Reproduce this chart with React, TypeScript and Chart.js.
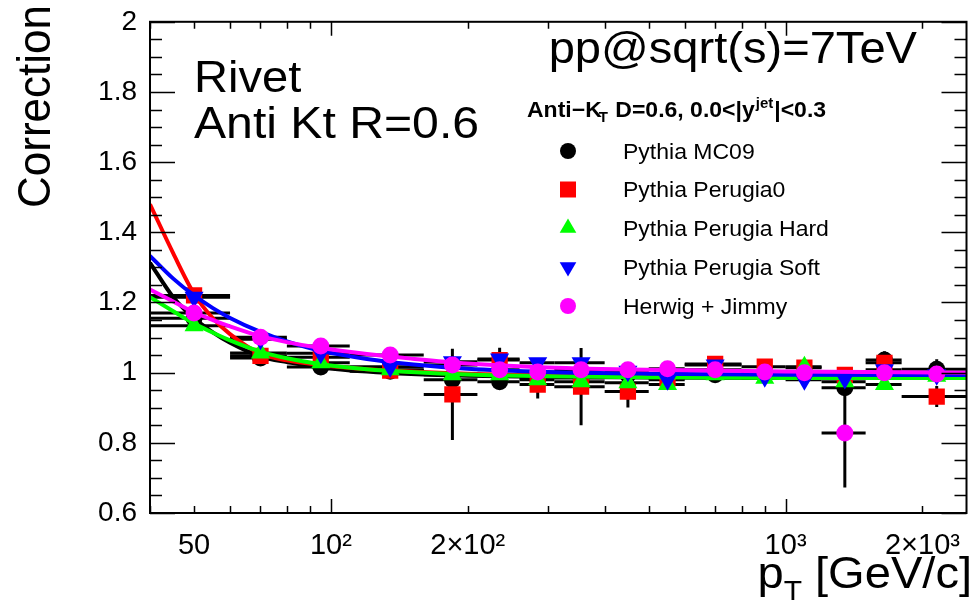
import React, { useEffect, useRef } from "react";
import { Chart, registerables } from "chart.js";

Chart.register(...registerables);

const FONT = "'Liberation Sans', Arial, Helvetica, sans-serif";

// ---------- data ----------
const binEdges = [40, 60, 80, 110, 160, 210, 260, 310, 400, 500, 600, 800, 1000, 1200, 1500, 1800, 2500];
const binCenters = [50, 70, 95, 135, 185, 235, 285, 355, 450, 550, 700, 900, 1100, 1350, 1650, 2150];

const mc09 = [1.155, 1.042, 1.016, 1.004, 0.98, 0.974, 0.984, 0.985, 0.994, 0.994, 0.994, 0.994, 0.994, 0.957, 1.036, 1.01];
const mc09Err = [0.02, 0.01, 0.01, 0.01, 0.015, 0.015, 0.015, 0.015, 0.01, 0.01, 0.01, 0.01, 0.01, 0.02, 0.025, 0.028];

const perugia0 = [1.22, 1.048, 1.044, 1.006, 0.938, 1.036, 0.966, 0.96, 0.946, 0.984, 1.025, 1.017, 1.014, 0.994, 1.028, 0.932];
const perugia0Err = [0.02, 0.01, 0.01, 0.01, 0.13, 0.035, 0.04, 0.11, 0.045, 0.015, 0.015, 0.015, 0.015, 0.02, 0.02, 0.03];

const perugiaHard = [1.134, 1.056, 1.028, 1.008, 0.994, 0.994, 0.98, 0.974, 0.971, 0.966, 0.994, 0.984, 1.017, 0.974, 0.966, 0.99];
const perugiaHardErr = [0.015, 0.01, 0.01, 0.01, 0.01, 0.01, 0.01, 0.01, 0.01, 0.01, 0.01, 0.01, 0.01, 0.015, 0.015, 0.015];

const perugiaSoft = [1.215, 1.095, 1.055, 1.017, 1.031, 1.039, 1.028, 1.028, 1.004, 0.98, 1.022, 0.988, 0.98, 0.983, 1.008, 0.994];
const perugiaSoftErr = [0.015, 0.01, 0.01, 0.01, 0.01, 0.01, 0.01, 0.01, 0.01, 0.01, 0.01, 0.01, 0.01, 0.015, 0.015, 0.015];

const herwig = [1.17, 1.101, 1.076, 1.05, 1.022, 1.008, 1.002, 1.008, 1.008, 1.011, 1.008, 1.002, 1.0, 0.828, 1.0, 0.996];
const herwigErr = [0.015, 0.01, 0.01, 0.01, 0.01, 0.01, 0.01, 0.01, 0.01, 0.01, 0.01, 0.01, 0.01, 0.155, 0.015, 0.015];

// fit curves at these pT nodes
const fitX = [40, 45, 50, 55, 60, 70, 80, 95, 120, 150, 200, 300, 500, 1000, 2500];
const fitMC09 = [1.313, 1.215, 1.155, 1.115, 1.085, 1.046, 1.03, 1.015, 1.003, 0.996, 0.991, 0.988, 0.986, 0.985, 0.985];
const fitPerugia0 = [1.48, 1.34, 1.225, 1.155, 1.11, 1.054, 1.035, 1.022, 1.01, 1.003, 0.997, 0.993, 0.992, 0.992, 0.992];
const fitPerugiaHard = [1.215, 1.175, 1.14, 1.114, 1.092, 1.06, 1.041, 1.024, 1.01, 1.002, 0.995, 0.99, 0.987, 0.985, 0.985];
const fitPerugiaSoft = [1.333, 1.268, 1.22, 1.184, 1.156, 1.116, 1.089, 1.062, 1.039, 1.024, 1.011, 1.002, 0.997, 0.994, 0.993];
const fitHerwig = [1.237, 1.203, 1.172, 1.15, 1.132, 1.104, 1.087, 1.07, 1.053, 1.04, 1.026, 1.015, 1.008, 1.003, 1.0];

const seriesLabels = ["Pythia MC09", "Pythia Perugia0", "Pythia Perugia Hard", "Pythia Perugia Soft", "Herwig + Jimmy"];
const seriesColors = ["#000000", "#ff0000", "#00ff00", "#0000ff", "#ff00ff"];
const seriesMarkers = ["circle", "rect", "triangleUp", "triangleDown", "circle"];

const xTickValues = [50, 100, 200, 1000, 2000];
const xTickLabels = ["50", "10\u00B2", "2\u00D710\u00B2", "10\u00B3", "2\u00D710\u00B3"];
const xMinorTicks = [40, 50, 60, 70, 80, 90, 100, 200, 300, 400, 500, 600, 700, 800, 900, 1000, 2000];
const xMajorTicks = [100, 1000];

const seriesValues = [mc09, perugia0, perugiaHard, perugiaSoft, herwig];
const seriesErrors = [mc09Err, perugia0Err, perugiaHardErr, perugiaSoftErr, herwigErr];
const seriesFits = [fitMC09, fitPerugia0, fitPerugiaHard, fitPerugiaSoft, fitHerwig];

// ---------- helpers ----------
const SX = 1.07; // horizontal stretch of the reference's text

function drawText(ctx: CanvasRenderingContext2D, text: string, x: number, y: number, font: string, align: "left" | "right" = "left") {
  ctx.save();
  ctx.font = font;
  ctx.textBaseline = "alphabetic";
  ctx.textAlign = "left";
  const w = ctx.measureText(text).width * SX;
  const x0 = align === "right" ? x - w : x;
  ctx.translate(x0, y);
  ctx.scale(SX, 1);
  ctx.fillText(text, 0, 0);
  ctx.restore();
  return w;
}

function drawMarker(ctx: CanvasRenderingContext2D, kind: string, x: number, y: number, color: string, size: number) {
  ctx.save();
  ctx.fillStyle = color;
  ctx.beginPath();
  if (kind === "circle") {
    ctx.arc(x, y, size * 0.5, 0, Math.PI * 2);
  } else if (kind === "rect") {
    ctx.rect(x - size / 2, y - size / 2, size, size);
  } else if (kind === "triangleUp") {
    const r = size * 0.6;
    ctx.moveTo(x, y - r);
    ctx.lineTo(x + r * 0.866, y + r * 0.5);
    ctx.lineTo(x - r * 0.866, y + r * 0.5);
    ctx.closePath();
  } else {
    const r = size * 0.6;
    ctx.moveTo(x, y + r);
    ctx.lineTo(x + r * 0.866, y - r * 0.5);
    ctx.lineTo(x - r * 0.866, y - r * 0.5);
    ctx.closePath();
  }
  ctx.fill();
  ctx.restore();
}

const rootPlugin = {
  id: "rootDecor",
  beforeDatasetsDraw(chart: any) {
    const { ctx, chartArea, scales } = chart;
    const xs = scales.x;
    const ys = scales.y;
    ctx.save();
    ctx.beginPath();
    ctx.rect(chartArea.left, chartArea.top, chartArea.right - chartArea.left, chartArea.bottom - chartArea.top);
    ctx.clip();
    ctx.strokeStyle = "#000";
    ctx.lineWidth = 3;
    for (let s = 0; s < seriesValues.length; s++) {
      const vals = seriesValues[s];
      const errs = seriesErrors[s];
      for (let i = 0; i < binCenters.length; i++) {
        const py = ys.getPixelForValue(vals[i]);
        const pxL = xs.getPixelForValue(binEdges[i]);
        const pxR = xs.getPixelForValue(binEdges[i + 1]);
        const pxC = xs.getPixelForValue(binCenters[i]);
        ctx.beginPath();
        ctx.moveTo(pxL, py);
        ctx.lineTo(pxR, py);
        ctx.moveTo(pxC, ys.getPixelForValue(vals[i] - errs[i]));
        ctx.lineTo(pxC, ys.getPixelForValue(vals[i] + errs[i]));
        ctx.stroke();
      }
    }
    ctx.restore();
  },
  afterDraw(chart: any) {
    const { ctx, chartArea, scales } = chart;
    const { left, right, top, bottom } = chartArea;
    const xs = scales.x;
    const ys = scales.y;
    ctx.save();
    ctx.strokeStyle = "#000";
    ctx.fillStyle = "#000";
    // ticks
    ctx.lineWidth = 1.5;
    ctx.beginPath();
    for (let k = 0; k <= 28; k++) {
      const v = 0.6 + k * 0.05;
      const py = Math.round(ys.getPixelForValue(v)) + 0.5;
      const len = k % 4 === 0 ? 25 : 12;
      ctx.moveTo(left, py);
      ctx.lineTo(left + len, py);
      ctx.moveTo(right, py);
      ctx.lineTo(right - len, py);
    }
    for (const v of xMinorTicks) {
      const px = Math.round(xs.getPixelForValue(v)) + 0.5;
      const len = xMajorTicks.includes(v) ? 14 : 7;
      ctx.moveTo(px, bottom);
      ctx.lineTo(px, bottom - len);
      ctx.moveTo(px, top);
      ctx.lineTo(px, top + len);
    }
    ctx.stroke();
    // frame
    ctx.lineWidth = 2;
    ctx.strokeRect(left, top, right - left, bottom - top);

    // texts
    drawText(ctx, "Rivet", 194, 92, `44px ${FONT}`);
    drawText(ctx, "Anti Kt R=0.6", 194, 138, `45px ${FONT}`);
    drawText(ctx, "pp@sqrt(s)=7TeV", 917, 63, `44px ${FONT}`, "right");

    // y title (rotated)
    ctx.save();
    ctx.translate(50, 5);
    ctx.rotate(-Math.PI / 2);
    ctx.font = `44px ${FONT}`;
    ctx.textAlign = "right";
    ctx.textBaseline = "alphabetic";
    ctx.scale(1.0, SX);
    ctx.fillText("Correction", 0, 0);
    ctx.restore();

    // x title p_T [GeV/c]
    ctx.save();
    ctx.font = `44px ${FONT}`;
    const wRest = ctx.measureText(" [GeV/c]").width * SX;
    const wP = ctx.measureText("p").width * SX;
    ctx.font = `28px ${FONT}`;
    const wT = ctx.measureText("T").width * SX;
    ctx.restore();
    let xx = 972 - wRest - wT - wP;
    drawText(ctx, "p", xx, 588, `44px ${FONT}`);
    xx += wP;
    drawText(ctx, "T", xx, 600, `28px ${FONT}`);
    xx += wT;
    drawText(ctx, " [GeV/c]", xx, 588, `44px ${FONT}`);

    // legend header
    const hb = `bold 21.5px ${FONT}`;
    const hs = `bold 14px ${FONT}`;
    let hx = 527;
    const hy = 117;
    hx += drawText(ctx, "Anti\u2212K", hx, hy, hb);
    hx += drawText(ctx, "T", hx - 3, hy + 5, hs) - 2;
    hx += drawText(ctx, " D=0.6, 0.0<|y", hx, hy, hb);
    hx += drawText(ctx, "jet", hx + 1, hy - 9, hs) + 2;
    drawText(ctx, "|<0.3", hx, hy, hb);

    // legend entries
    const ly = [151, 189.5, 228, 267, 306];
    for (let i = 0; i < seriesLabels.length; i++) {
      drawMarker(ctx, seriesMarkers[i], 568, ly[i], seriesColors[i], 16);
      drawText(ctx, seriesLabels[i], 623, ly[i] + 7.5, `21.5px ${FONT}`);
    }
    ctx.restore();
  },
};

function buildDatasets() {
  const ds: any[] = [];
  const order = [4, 3, 2, 1, 0]; // first dataset is drawn on top
  for (const s of order) {
    const kind = seriesMarkers[s];
    let pointStyle: any = "circle";
    let radius = 8.5;
    let rotation = 0;
    if (kind === "rect") {
      pointStyle = "rect";
      radius = 11.5;
    } else if (kind === "triangleUp") {
      pointStyle = "triangle";
      radius = 11;
    } else if (kind === "triangleDown") {
      pointStyle = "triangle";
      radius = 11;
      rotation = 180;
    }
    ds.push({
      label: seriesLabels[s],
      data: binCenters.map((x, i) => ({ x, y: seriesValues[s][i] })),
      showLine: false,
      pointStyle,
      pointRadius: radius,
      pointRotation: rotation,
      pointBackgroundColor: seriesColors[s],
      pointBorderColor: seriesColors[s],
      pointBorderWidth: 0,
      backgroundColor: seriesColors[s],
      borderColor: seriesColors[s],
    });
    ds.push({
      label: seriesLabels[s] + " fit",
      data: fitX.map((x, i) => ({ x, y: seriesFits[s][i] })),
      showLine: true,
      pointRadius: 0,
      borderColor: seriesColors[s],
      borderWidth: 4,
      fill: false,
      tension: 0.4,
      cubicInterpolationMode: "monotone",
    });
  }
  return ds;
}

export default function App() {
  const canvasRef = useRef<HTMLCanvasElement>(null);

  useEffect(() => {
    document.body.style.margin = "0";
    const canvas = canvasRef.current;
    if (!canvas) return;
    const chart = new Chart(canvas, {
      type: "scatter",
      data: { datasets: buildDatasets() },
      options: {
        animation: false,
        responsive: false,
        devicePixelRatio: 1,
        events: [],
        layout: { padding: { top: 20, right: 5, left: 0, bottom: 0 } },
        plugins: {
          legend: { display: false },
          tooltip: { enabled: false },
        },
        scales: {
          x: {
            type: "logarithmic",
            min: 40,
            max: 2500,
            grid: { display: false },
            border: { display: false },
            ticks: {
              color: "#000",
              font: { family: FONT, size: 29 },
              padding: 8,
              maxRotation: 0,
              autoSkip: false,
              callback: (value: any) => {
                const idx = xTickValues.indexOf(Number(value));
                return idx >= 0 ? xTickLabels[idx] : "";
              },
            },
            afterBuildTicks: (scale: any) => {
              scale.ticks = xTickValues.map((v) => ({ value: v }));
            },
            afterFit: (scale: any) => {
              scale.height = 92;
            },
          },
          y: {
            type: "linear",
            min: 0.6,
            max: 2,
            grid: { display: false },
            border: { display: false },
            ticks: {
              stepSize: 0.2,
              color: "#000",
              font: { family: FONT, size: 28 },
              padding: 5,
              callback: (value: any) => String(Number(Number(value).toFixed(1))),
            },
            afterFit: (scale: any) => {
              scale.width = 150;
            },
          },
        },
      } as any,
      plugins: [rootPlugin],
    });
    return () => chart.destroy();
  }, []);

  return (
    <div style={{ position: "fixed", left: 0, top: 0, width: 978, height: 605, background: "#fff" }}>
      <canvas ref={canvasRef} width={978} height={605} style={{ display: "block" }} />
    </div>
  );
}
